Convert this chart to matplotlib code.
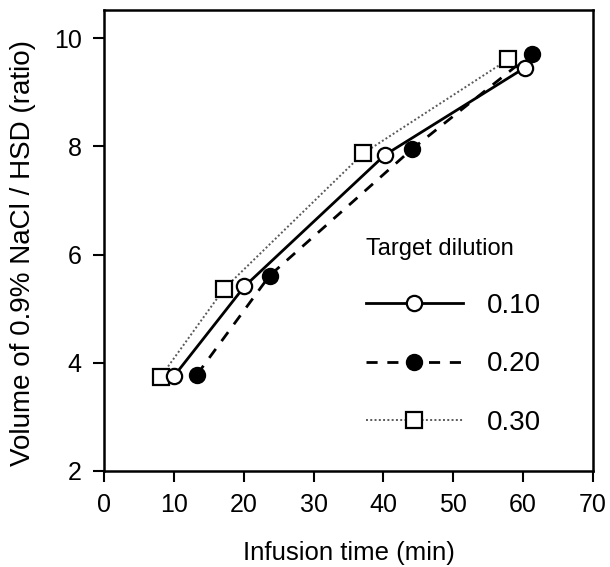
import numpy as np
import matplotlib
matplotlib.use('Agg')
import matplotlib.pyplot as plt

plt.rcParams['font.family'] = ['Liberation Sans', 'DejaVu Sans']

# Infusion time (min) and volume ratio for each target dilution
t_010 = [10.0, 20.1, 40.2, 60.2]
v_010 = [3.75, 5.41, 7.84, 9.45]

t_020 = [13.3, 23.7, 44.1, 61.2]
v_020 = [3.78, 5.61, 7.95, 9.71]

t_030 = [8.1, 17.2, 37.1, 57.9]
v_030 = [3.74, 5.37, 7.87, 9.61]

labels = ['0.10', '0.20', '0.30']

fig = plt.figure(figsize=(6.10, 5.67), dpi=100)
# axes box: x 104..593 px, y 10..471 px
ax = fig.add_axes([104 / 610, 1 - 471 / 567, 489 / 610, 461 / 567])

ax.plot(t_030, v_030, linestyle=(0, (1, 1.2)), color='0.35', lw=1.4,
        marker='s', ms=11, mfc='white', mec='black', mew=1.6,
        label=labels[2], zorder=2)
ax.plot(t_020, v_020, linestyle=(0, (4, 3.5)), color='black', lw=2,
        marker='o', ms=11, mfc='black', mec='black', mew=1.5,
        label=labels[1], zorder=3)
ax.plot(t_010, v_010, linestyle='-', color='black', lw=2,
        marker='o', ms=11, mfc='white', mec='black', mew=1.6,
        label=labels[0], zorder=4)

ax.set_xlim(0, 70)
ax.set_ylim(2, 10.52)
ax.set_xticks(np.arange(0, 71, 10))
ax.set_yticks([2, 4, 6, 8, 10])
ax.tick_params(direction='out', length=8, width=1.5, labelsize=18, pad=8)
for s in ax.spines.values():
    s.set_linewidth(1.8)

ax.set_xlabel('Infusion time (min)', fontsize=18.5, labelpad=17)
ax.set_ylabel('Volume of 0.9% NaCl / HSD (ratio)', fontsize=20)
ax.yaxis.set_label_coords(-0.14, 0.473)

h, l = ax.get_legend_handles_labels()
order = [2, 1, 0]
leg = ax.legend([h[i] for i in order], [l[i] for i in order],
                title='Target dilution', frameon=False, fontsize=20,
                title_fontsize=17, loc='upper left',
                bbox_to_anchor=(0.535, 0.506), handlelength=3.5,
                handletextpad=0.85, labelspacing=1.18, borderaxespad=0.0,
                borderpad=0.0)
leg._legend_box.align = 'left'

fig.savefig('out.png', dpi=100)
